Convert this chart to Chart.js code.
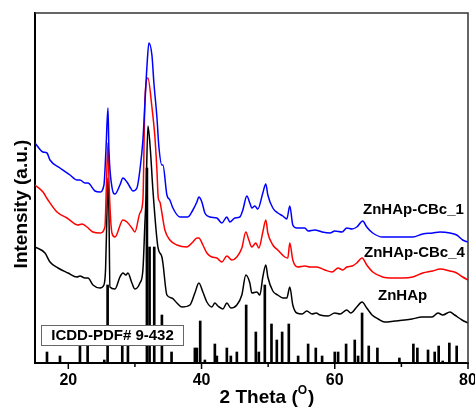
<!DOCTYPE html>
<html>
<head>
<meta charset="utf-8">
<script src="https://cdn.jsdelivr.net/npm/chart.js@4.4.0/dist/chart.umd.min.js"></script>
<style>
  html, body { margin: 0; padding: 0; background: #fff; }
</style>
</head>
<body>
<canvas id="xrdChart" width="475" height="410"></canvas>
<script>
// XRD patterns, [2 theta, intensity (a.u.)]
const znhapCBc1 = [
    [15.0, 220], [16.2, 211], [16.8, 210], [17.25, 203], [18.75, 195], [20.25, 188],
    [21.3, 183], [21.75, 183], [22.5, 180], [22.95, 180], [24.0, 172], [24.75, 171],
    [25.35, 178], [25.65, 213], [25.95, 255], [26.1, 213], [26.55, 176], [27.0, 169],
    [27.75, 178], [28.2, 185], [28.8, 181], [29.25, 176], [29.7, 172], [30.3, 175],
    [30.75, 193], [31.2, 223], [31.8, 296], [32.1, 320], [32.55, 308], [32.85, 280],
    [33.3, 246], [33.6, 216], [34.05, 198], [34.2, 198], [34.8, 168], [35.25, 163],
    [35.7, 155], [36.75, 146], [37.95, 146], [38.7, 153], [39.3, 161], [39.6, 166],
    [40.05, 161], [40.5, 150], [41.25, 146], [42.3, 145], [43.05, 140], [43.8, 146],
    [44.25, 141], [45.0, 145], [45.75, 146], [46.2, 153], [46.8, 167], [47.25, 160],
    [47.55, 155], [48.0, 157], [48.45, 154], [49.2, 170], [49.65, 179], [49.95, 168],
    [50.7, 155], [51.45, 150], [52.2, 147], [52.8, 144], [53.25, 157], [53.7, 138],
    [54.3, 135], [55.5, 135], [56.0, 132], [57.0, 133], [58.1, 131], [59.3, 130],
    [60.0, 132], [61.1, 131], [61.8, 135], [62.6, 134], [63.3, 136], [64.2, 142],
    [64.8, 136], [65.7, 130], [67.2, 126], [68.7, 126], [70.2, 126], [71.7, 126],
    [73.2, 129], [74.7, 130], [75.8, 131], [77.3, 130], [78.3, 128], [79.2, 123], [80.0, 121]
];

const znhapCBc4 = [
    [15.0, 178], [16.2, 171], [16.95, 163], [18.3, 151], [19.8, 145], [21.45, 138],
    [22.05, 139], [22.8, 136], [23.7, 131], [24.75, 130], [25.5, 136], [25.7, 173],
    [25.95, 220], [26.15, 173], [26.55, 130], [27.0, 126], [28.2, 143], [28.8, 141],
    [29.55, 135], [30.0, 131], [30.75, 150], [31.2, 163], [31.5, 263], [31.95, 285],
    [32.55, 256], [33.0, 226], [33.3, 193], [33.5, 165], [33.75, 161], [34.05, 150],
    [34.5, 133], [35.25, 123], [36.3, 118], [37.8, 116], [38.7, 121], [39.3, 125],
    [39.6, 125], [40.2, 118], [40.8, 110], [41.55, 106], [42.3, 105], [43.05, 101],
    [43.8, 107], [44.55, 103], [45.3, 106], [46.05, 115], [46.65, 131], [47.1, 123],
    [47.55, 116], [48.15, 120], [48.6, 115], [49.2, 131], [49.65, 143], [49.95, 130],
    [50.7, 118], [51.45, 113], [52.5, 106], [52.95, 105], [53.25, 120], [53.7, 103],
    [54.45, 96], [55.5, 97], [56.3, 96], [57.3, 96], [58.5, 93], [59.6, 91],
    [60.5, 95], [61.2, 93], [61.8, 96], [62.6, 97], [63.3, 100], [64.1, 105],
    [64.8, 98], [65.7, 91], [67.2, 86], [68.7, 85], [70.2, 85], [71.7, 86],
    [73.2, 90], [74.7, 92], [75.8, 94], [77.3, 92], [78.3, 90], [79.2, 86], [80.0, 83]
];

const znhap = [
    [15.0, 116], [16.5, 110], [17.25, 101], [18.45, 95], [19.95, 90], [21.3, 86],
    [21.75, 87], [22.5, 85], [22.95, 85], [23.7, 78], [24.75, 75], [25.35, 78],
    [25.6, 95], [25.8, 150], [25.95, 185], [26.1, 150], [26.25, 76], [27.0, 74],
    [27.75, 86], [28.2, 90], [28.65, 88], [28.95, 90], [29.55, 80], [30.0, 74],
    [30.75, 80], [31.2, 93], [31.5, 140], [31.65, 163], [31.95, 237], [32.3, 215],
    [32.7, 173], [33.45, 116], [34.05, 106], [34.2, 100], [34.8, 68], [35.55, 65],
    [36.3, 60], [37.05, 56], [38.25, 58], [39.0, 70], [39.6, 80], [40.2, 71],
    [40.8, 61], [41.55, 56], [42.0, 60], [42.45, 57], [43.2, 54], [43.8, 60],
    [44.4, 55], [45.3, 58], [46.05, 68], [46.65, 88], [47.25, 80], [47.55, 70],
    [48.3, 71], [48.75, 68], [49.2, 86], [49.65, 98], [49.95, 86], [50.7, 72],
    [51.45, 68], [52.2, 65], [52.8, 65], [53.25, 76], [53.7, 58], [54.3, 50],
    [55.1, 49], [55.8, 52], [56.6, 49], [57.2, 50], [57.8, 48], [59.0, 47],
    [60.0, 50], [60.8, 49], [61.8, 53], [62.4, 50], [63.3, 56], [64.1, 61],
    [64.8, 55], [65.6, 48], [66.5, 44], [67.5, 41], [69.0, 42], [70.5, 43],
    [71.6, 44], [73.1, 46], [74.6, 46], [75.5, 50], [76.2, 48], [77.3, 51],
    [78.0, 48], [79.1, 43], [80.0, 40]
];

// reference pattern ICDD-PDF# 9-432 (stick heights)
const icddPositions = [
    16.8, 18.75, 21.75, 22.9, 25.4, 25.9, 28.1, 28.95, 31.8, 32.2, 32.9, 34.05, 35.5,
    39.0, 39.3, 39.8, 40.5, 42.0, 42.3, 43.8, 44.4, 45.3, 46.7, 48.15, 48.6, 49.5,
    50.5, 51.3, 52.1, 53.1, 54.5, 56.0, 57.15, 58.1, 60.0, 60.5, 61.7, 63.0, 63.5,
    64.1, 65.1, 66.4, 69.7, 71.8, 72.4, 74.0, 75.0, 75.6, 76.2, 77.2, 78.3
];
const icddHeights = [
    11, 7, 25, 25, 3, 78, 23, 26, 195, 116, 116, 48, 11,
    15, 15, 42, 3, 19, 7, 15, 7, 11, 58, 31, 11, 78,
    39, 23, 31, 39, 7, 19, 15, 7, 11, 11, 19, 23, 7,
    50, 17, 15, 5, 19, 15, 13, 11, 17, 2, 20, 17
];

const xTicks = [20, 30, 40, 50, 60, 70, 80];
const xTickLabels = [20, 40, 60, 80];

const seriesLabels = [
    { text: 'ZnHAp-CBc_1', x: 363, y: 210 },
    { text: 'ZnHAp-CBc_4', x: 364, y: 253 },
    { text: 'ZnHAp', x: 378, y: 296 }
];

const FONT = "'Liberation Sans', Arial, sans-serif";

function toPoints(pairs) {
    return pairs.map(p => ({ x: p[0], y: p[1] }));
}

const sticks = icddPositions.map((pos, i) => ({ x: pos, y: icddHeights[i] }));

// frame, tick marks, box and all the free text
const decorPlugin = {
    id: 'decor',
    afterDatasetsDraw(chart) {
        const c = chart.ctx;
        c.save();
        c.fillStyle = '#fff';
        c.fillRect(41.5, 325.5, 142, 20);
        c.strokeStyle = '#666';
        c.lineWidth = 1;
        c.strokeRect(41.5, 325.5, 142, 20);
        c.fillStyle = '#000';
        c.font = 'bold 15px ' + FONT;
        c.textAlign = 'center';
        c.textBaseline = 'middle';
        c.fillText('ICDD-PDF# 9-432', 112.5, 336);
        c.restore();
    },
    afterDraw(chart) {
        const c = chart.ctx;
        const area = chart.chartArea;
        const xs = chart.scales.x;
        c.save();

        // top and right frame
        c.strokeStyle = '#333';
        c.lineWidth = 1.5;
        c.beginPath();
        c.moveTo(area.left, area.top);
        c.lineTo(area.right, area.top);
        c.lineTo(area.right, area.bottom);
        c.stroke();

        // outward ticks, major ones longer
        c.strokeStyle = '#000';
        c.lineWidth = 1.5;
        xTicks.forEach(v => {
            const px = xs.getPixelForValue(v);
            const len = xTickLabels.includes(v) ? 5 : 3;
            c.beginPath();
            c.moveTo(px, area.bottom + 1);
            c.lineTo(px, area.bottom + 1 + len);
            c.stroke();
        });

        // sample names
        c.fillStyle = '#000';
        c.font = 'bold 15px ' + FONT;
        c.textAlign = 'left';
        c.textBaseline = 'middle';
        seriesLabels.forEach(l => c.fillText(l.text, l.x, l.y));

        // y title
        c.save();
        c.translate(27, 204);
        c.rotate(-Math.PI / 2);
        c.font = 'bold 19px ' + FONT;
        c.textAlign = 'center';
        c.textBaseline = 'alphabetic';
        c.fillText('Intensity (a.u.)', 0, 0);
        c.restore();

        // x title with superscript O
        const big = 'bold 19px ' + FONT;
        const small = 'bold 12px ' + FONT;
        c.textAlign = 'left';
        c.textBaseline = 'alphabetic';
        c.font = big;
        const w1 = c.measureText('2 Theta (').width;
        const w3 = c.measureText(')').width;
        c.font = small;
        const w2 = c.measureText('O').width + 1;
        let x0 = 267 - (w1 + w2 + w3) / 2;
        c.font = big;
        c.fillText('2 Theta (', x0, 403);
        c.font = small;
        c.fillText('O', x0 + w1, 394);
        c.font = big;
        c.fillText(')', x0 + w1 + w2, 403);

        c.restore();
    }
};

const ctx = document.getElementById('xrdChart').getContext('2d');

const chart = new Chart(ctx, {
    type: 'line',
    data: {
        datasets: [
            {
                label: 'ZnHAp-CBc_1',
                data: toPoints(znhapCBc1),
                borderColor: '#0000ff',
                borderWidth: 1.5,
                pointRadius: 0,
                cubicInterpolationMode: 'monotone'
            },
            {
                label: 'ZnHAp-CBc_4',
                data: toPoints(znhapCBc4),
                borderColor: '#ff0000',
                borderWidth: 1.5,
                pointRadius: 0,
                cubicInterpolationMode: 'monotone'
            },
            {
                label: 'ZnHAp',
                data: toPoints(znhap),
                borderColor: '#000000',
                borderWidth: 1.5,
                pointRadius: 0,
                cubicInterpolationMode: 'monotone'
            },
            {
                type: 'bar',
                label: 'ICDD-PDF# 9-432',
                data: sticks,
                backgroundColor: '#000000',
                borderWidth: 0,
                barThickness: 2,
                grouped: false
            }
        ]
    },
    options: {
        responsive: false,
        animation: false,
        layout: {
            padding: { top: 13, right: 7, left: 0, bottom: 0 }
        },
        plugins: {
            legend: { display: false },
            tooltip: { enabled: false }
        },
        scales: {
            x: {
                type: 'linear',
                min: 15,
                max: 80,
                offset: false,
                afterBuildTicks: scale => {
                    scale.ticks = xTicks.map(v => ({ value: v }));
                },
                afterFit: scale => {
                    scale.height = 47;
                    scale.paddingLeft = 0;
                    scale.paddingRight = 0;
                },
                ticks: {
                    autoSkip: false,
                    maxRotation: 0,
                    padding: 8,
                    color: '#000',
                    font: { family: FONT, size: 16, weight: 'bold' },
                    callback: v => (xTickLabels.includes(v) ? String(v) : '')
                },
                grid: { display: false, drawTicks: false, offset: false },
                border: { display: true, color: '#000', width: 2 }
            },
            y: {
                min: 0,
                max: 350,
                afterFit: scale => {
                    scale.width = 35;
                },
                ticks: { display: false },
                grid: { display: false, drawTicks: false },
                border: { display: true, color: '#000', width: 2 }
            }
        }
    },
    plugins: [decorPlugin]
});
</script>
</body>
</html>
